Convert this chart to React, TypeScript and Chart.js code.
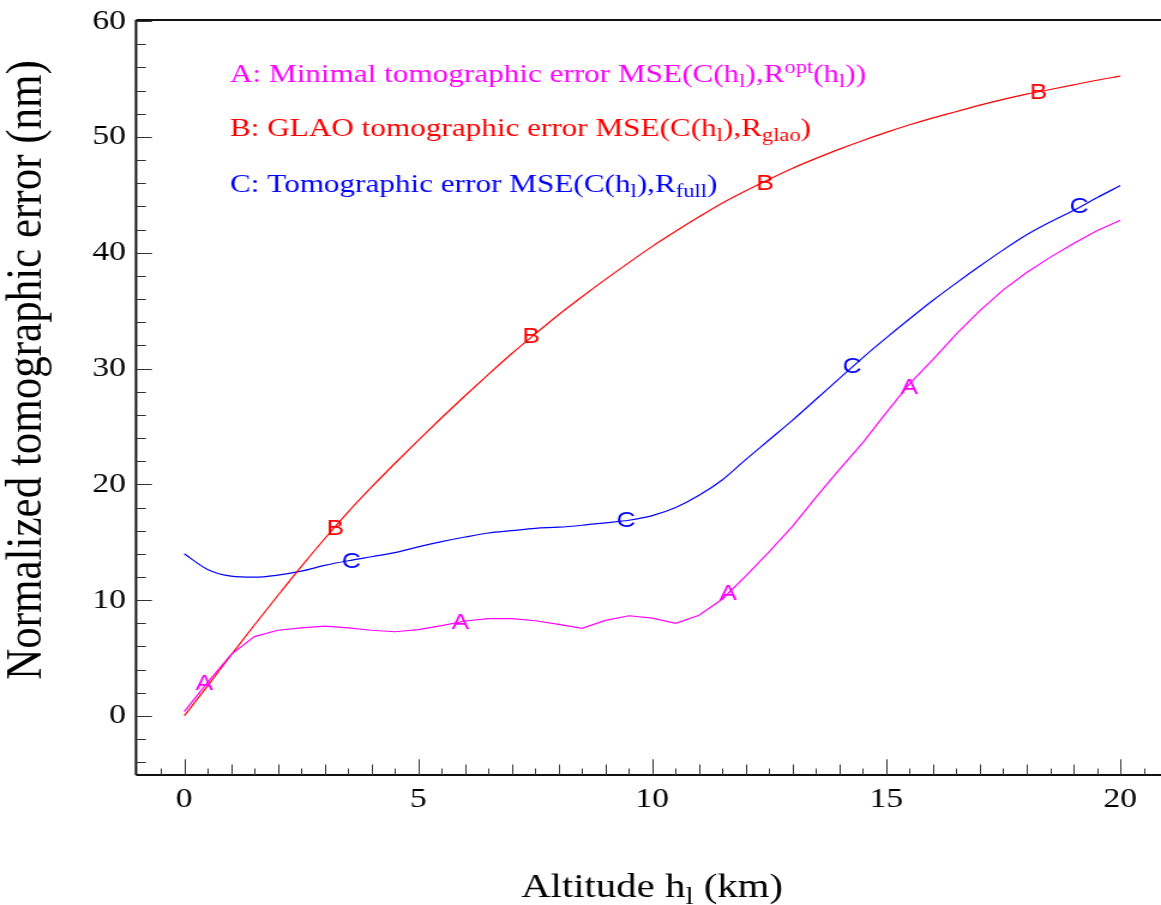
import React, { useEffect, useRef } from 'react';
import { Chart, registerables } from 'chart.js';

Chart.register(...registerables);

// ---- data ----
const altitudes = [
  0, 0.5, 1, 1.5, 2, 2.5, 3, 3.5, 4, 4.5, 5, 5.5, 6, 6.5, 7, 7.5, 8, 8.5, 9, 9.5, 10,
  10.5, 11, 11.5, 12, 12.5, 13, 13.5, 14, 14.5, 15, 15.5, 16, 16.5, 17, 17.5, 18, 18.5, 19, 19.5, 20,
];
const errorA = [
  0.37, 2.9, 5.3, 6.85, 7.4, 7.6, 7.75, 7.6, 7.4, 7.27, 7.45, 7.8, 8.2, 8.4, 8.4, 8.22, 7.9, 7.56, 8.25, 8.65, 8.45,
  8.0, 8.7, 10.1, 12.1, 14.2, 16.4, 18.9, 21.3, 23.6, 26.2, 28.7, 30.8, 33.0, 35.0, 36.8, 38.3, 39.6, 40.8, 41.9, 42.8,
];
const errorB = [
  0, 2.6, 5.25, 7.85, 10.4, 12.9, 15.3, 17.6, 19.75, 21.8, 23.8, 25.75, 27.65, 29.5, 31.3, 33.0, 34.65, 36.2, 37.7, 39.15, 40.55,
  41.85, 43.1, 44.3, 45.35, 46.35, 47.3, 48.15, 48.95, 49.7, 50.4, 51.05, 51.65, 52.2, 52.75, 53.25, 53.7, 54.1, 54.5, 54.9, 55.25,
];
const errorC = [
  14.0, 12.65, 12.07, 11.98, 12.16, 12.5, 13.0, 13.4, 13.75, 14.1, 14.6, 15.05, 15.45, 15.8, 16.0, 16.2, 16.3, 16.47, 16.68, 16.9, 17.3,
  18.0, 19.05, 20.4, 22.15, 23.85, 25.55, 27.35, 29.15, 30.95, 32.65, 34.3, 35.9, 37.4, 38.85, 40.25, 41.55, 42.65, 43.65, 44.75, 45.8,
];

// curve marker letters
const markA_x = [0.43, 5.9, 11.62, 15.49];
const markA_y = [2.84, 8.1, 10.6, 28.4];
const markB_x = [3.23, 7.41, 12.41, 18.25];
const markB_y = [16.2, 32.8, 46.0, 53.9];
const markC_x = [3.57, 9.44, 14.27, 19.12];
const markC_y = [13.4, 16.9, 30.2, 44.05];

const xTickValues = [0, 5, 10, 15, 20];
const yTickValues = [0, 10, 20, 30, 40, 50, 60];

const legendA = [
  { t: 'A: Minimal tomographic error MSE(C(h' }, { t: 'l', k: 'sub' }, { t: '),R' },
  { t: 'opt', k: 'sup' }, { t: '(h' }, { t: 'l', k: 'sub' }, { t: '))' },
];
const legendB = [
  { t: 'B: GLAO tomographic error MSE(C(h' }, { t: 'l', k: 'sub' }, { t: '),R' },
  { t: 'glao', k: 'sub' }, { t: ')' },
];
const legendC = [
  { t: 'C: Tomographic error MSE(C(h' }, { t: 'l', k: 'sub' }, { t: '),R' },
  { t: 'full', k: 'sub' }, { t: ')' },
];
const xTitle = [{ t: 'Altitude h' }, { t: 'l', k: 'sub' }, { t: ' (km)' }];
const yTitle = 'Normalized tomographic error (nm)';

const MAGENTA = '#ff00ff';
const RED = '#ff0000';
const BLUE = '#0000ff';

const CANVAS_W = 968;
const CANVAS_H = 905;
const STRETCH = 1161 / CANVAS_W;
const SERIF = '"Liberation Serif", "Times New Roman", serif';
const SANS = '"Liberation Sans", Arial, sans-serif';

type Part = { t: string; k?: string };

function richWidth(ctx: CanvasRenderingContext2D, parts: Part[], size: number) {
  let w = 0;
  for (const p of parts) {
    const s = p.k ? size * 0.72 : size;
    ctx.font = `${s}px ${SERIF}`;
    w += ctx.measureText(p.t).width;
  }
  return w;
}

function drawRich(ctx: CanvasRenderingContext2D, parts: Part[], x: number, y: number, size: number) {
  let cx = x;
  for (const p of parts) {
    const s = p.k ? size * 0.72 : size;
    const dy = p.k === 'sub' ? size * 0.2 : p.k === 'sup' ? -size * 0.36 : 0;
    ctx.font = `${s}px ${SERIF}`;
    ctx.fillText(p.t, cx, y + dy);
    cx += ctx.measureText(p.t).width;
  }
}

const decorPlugin = {
  id: 'decor',
  afterDraw(chart: any) {
    const ctx: CanvasRenderingContext2D = chart.ctx;
    const area = chart.chartArea;
    const xs = chart.scales.x;
    const ys = chart.scales.y;
    ctx.save();

    // frame lines
    ctx.strokeStyle = '#111';
    ctx.lineWidth = 2;
    ctx.beginPath();
    ctx.moveTo(area.left, area.top);
    ctx.lineTo(area.right, area.top);
    ctx.moveTo(area.left, area.top);
    ctx.lineTo(area.left, area.bottom);
    ctx.moveTo(area.left, area.bottom);
    ctx.lineTo(area.right, area.bottom);
    ctx.stroke();

    // inward ticks
    ctx.strokeStyle = '#333';
    ctx.lineWidth = 1;
    ctx.beginPath();
    for (let v = -4; v <= 60; v += 2) {
      const py = Math.round(ys.getPixelForValue(v)) + 0.5;
      const len = v % 10 === 0 ? 13.3 : 8.3;
      ctx.moveTo(area.left, py);
      ctx.lineTo(area.left + len, py);
    }
    for (let i = -1; i <= 41; i++) {
      const v = i * 0.5;
      if (v < xs.min || v > xs.max) continue;
      const px = Math.round(xs.getPixelForValue(v)) + 0.5;
      const len = v % 5 === 0 ? 15.7 : Number.isInteger(v) ? 10.5 : 6.5;
      ctx.moveTo(px, area.bottom);
      ctx.lineTo(px, area.bottom - len);
    }
    ctx.stroke();

    // curve letters
    ctx.textAlign = 'center';
    ctx.textBaseline = 'middle';
    ctx.font = `22px ${SANS}`;
    const marks: [number[], number[], string, string][] = [
      [markA_x, markA_y, 'A', MAGENTA],
      [markB_x, markB_y, 'B', RED],
      [markC_x, markC_y, 'C', BLUE],
    ];
    for (const [mx, my, letter, color] of marks) {
      ctx.fillStyle = color;
      mx.forEach((xv, i) => {
        ctx.fillText(letter, xs.getPixelForValue(xv), ys.getPixelForValue(my[i]) + 1);
      });
    }

    // legend texts
    ctx.textAlign = 'left';
    ctx.textBaseline = 'alphabetic';
    const lx = 230 / STRETCH;
    ctx.fillStyle = MAGENTA;
    drawRich(ctx, legendA, lx, 82, 26);
    ctx.fillStyle = RED;
    drawRich(ctx, legendB, lx, 136, 26);
    ctx.fillStyle = BLUE;
    drawRich(ctx, legendC, lx, 192, 26);

    // x title
    ctx.fillStyle = '#000';
    const tw = richWidth(ctx, xTitle, 34);
    drawRich(ctx, xTitle, 652 / STRETCH - tw / 2, 897, 34);

    // y title
    ctx.save();
    ctx.translate(34, 370);
    ctx.rotate(-Math.PI / 2);
    ctx.font = `43px ${SERIF}`;
    ctx.textAlign = 'center';
    ctx.textBaseline = 'alphabetic';
    ctx.fillText(yTitle, 0, 0);
    ctx.restore();

    ctx.restore();
  },
};

export default function App() {
  const ref = useRef<HTMLCanvasElement>(null);

  useEffect(() => {
    const toPts = (ys: number[]) => altitudes.map((x, i) => ({ x, y: ys[i] }));
    const chart = new Chart(ref.current as HTMLCanvasElement, {
      type: 'line',
      data: {
        datasets: [
          { label: 'A', data: toPts(errorA), borderColor: MAGENTA, borderWidth: 1.2, pointRadius: 0, tension: 0, fill: false },
          { label: 'B', data: toPts(errorB), borderColor: RED, borderWidth: 1.2, pointRadius: 0, cubicInterpolationMode: 'monotone', fill: false },
          { label: 'C', data: toPts(errorC), borderColor: BLUE, borderWidth: 1.2, pointRadius: 0, cubicInterpolationMode: 'monotone', fill: false },
        ],
      },
      options: {
        animation: false,
        responsive: false,
        devicePixelRatio: 1,
        layout: { padding: { top: 20, left: 0, right: 0, bottom: 0 } },
        plugins: { legend: { display: false }, tooltip: { enabled: false }, title: { display: false } },
        scales: {
          x: {
            type: 'linear',
            min: -1.03,
            max: 20.87,
            afterBuildTicks: (s: any) => { s.ticks = xTickValues.map((v) => ({ value: v })); },
            afterFit: (s: any) => { s.height = 130; s.paddingLeft = 0; s.paddingRight = 0; },
            grid: { display: false, drawTicks: false },
            border: { display: false },
            ticks: { color: '#000', font: { family: SERIF, size: 28 }, padding: 8, maxRotation: 0, autoSkip: false },
          },
          y: {
            type: 'linear',
            min: -5.1,
            max: 60.1,
            afterBuildTicks: (s: any) => { s.ticks = yTickValues.map((v) => ({ value: v })); },
            afterFit: (s: any) => { s.width = 113.4; s.paddingTop = 0; s.paddingBottom = 0; },
            grid: { display: false, drawTicks: false },
            border: { display: false },
            ticks: { color: '#000', font: { family: SERIF, size: 28 }, padding: 8.5, autoSkip: false },
          },
        },
      } as any,
      plugins: [decorPlugin],
    });
    return () => chart.destroy();
  }, []);

  return (
    <div style={{ position: 'absolute', left: 0, top: 0, width: 1161, height: 905, overflow: 'hidden', background: '#fff' }}>
      <div style={{ width: CANVAS_W, height: CANVAS_H, transform: `scaleX(${STRETCH})`, transformOrigin: '0 0' }}>
        <canvas ref={ref} width={CANVAS_W} height={CANVAS_H} />
      </div>
    </div>
  );
}
